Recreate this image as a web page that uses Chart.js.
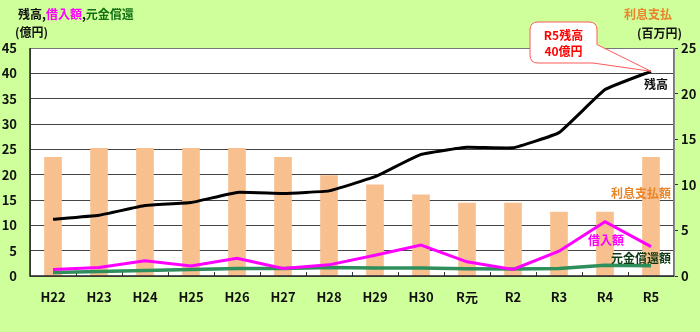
<!DOCTYPE html>
<html lang="ja">
<head>
<meta charset="UTF-8">
<title>残高・借入額・元金償還・利息支払</title>
<script src="https://cdn.jsdelivr.net/npm/chart.js"></script>
<style>
    html, body { margin: 0; padding: 0; background: #ceff9b; }
    #wrap { width: 700px; height: 332px; position: relative; }
</style>
</head>
<body>
<div id="wrap"><canvas id="debtChart" width="700" height="332"></canvas></div>
<script>
    // 年度
    const years = ['H22', 'H23', 'H24', 'H25', 'H26', 'H27', 'H28', 'H29', 'H30', 'R元', 'R2', 'R3', 'R4', 'R5'];
    // 残高 (億円)
    const balance = [11.2, 12.0, 13.9, 14.5, 16.5, 16.3, 16.8, 19.6, 24.0, 25.4, 25.3, 28.3, 36.8, 40.4];
    // 借入額 (億円)
    const borrowing = [1.3, 1.7, 3.0, 2.0, 3.5, 1.5, 2.2, 4.1, 6.1, 2.8, 1.3, 4.9, 10.7, 5.8];
    // 元金償還額 (億円)
    const repayment = [0.7, 0.9, 1.1, 1.3, 1.5, 1.5, 1.7, 1.6, 1.6, 1.45, 1.4, 1.5, 2.1, 2.0];
    // 利息支払額 (百万円)
    const interest = [13, 14, 14, 14, 14, 13, 11, 10, 8.9, 8, 8, 7, 7, 13];

    const leftTicks = [0, 5, 10, 15, 20, 25, 30, 35, 40, 45];
    const rightTicks = [0, 5, 10, 15, 20, 25];

    const jp = '"Noto Sans CJK JP", "Noto Sans", sans-serif';

    // 凡例・単位・吹き出しなどの文字
    const overlay = {
        id: 'overlay',
        beforeDatasetsDraw(chart) {
            const { ctx, chartArea: a } = chart;
            // x軸の目盛り (区切り位置、内向き)
            const x = chart.scales.x;
            ctx.save();
            ctx.strokeStyle = '#333';
            ctx.lineWidth = 1;
            for (let i = 1; i < years.length; i++) {
                const px = Math.round((x.getPixelForValue(i - 1) + x.getPixelForValue(i)) / 2) + 0.5;
                ctx.beginPath();
                ctx.moveTo(px, a.bottom);
                ctx.lineTo(px, a.bottom - 4);
                ctx.stroke();
            }
            ctx.restore();
        },
        afterDraw(chart) {
            const { ctx, chartArea: a } = chart;
            ctx.save();
            // 枠
            ctx.strokeStyle = '#777';
            ctx.lineWidth = 1;
            ctx.strokeRect(a.left + 0.5, a.top + 0.5, a.right - a.left - 1, a.bottom - a.top);
            ctx.strokeStyle = '#222';
            ctx.lineWidth = 1.5;
            ctx.beginPath();
            ctx.moveTo(a.left, a.top);
            ctx.lineTo(a.left, a.bottom);
            ctx.lineTo(a.right, a.bottom);
            ctx.stroke();

            ctx.textBaseline = 'middle';
            ctx.font = 'bold 12px ' + jp;

            // 左上タイトル
            let tx = 18;
            const parts = [['残高', '#111'], [',', '#111'], ['借入額', '#ff00ff'], [',', '#111'], ['元金償還', '#127012']];
            parts.forEach(([t, c]) => {
                ctx.fillStyle = c;
                ctx.fillText(t, tx, 14);
                tx += ctx.measureText(t).width;
            });
            ctx.fillStyle = '#111';
            ctx.fillText('(億円)', 15, 32);

            // 右上タイトル
            ctx.textAlign = 'right';
            ctx.fillStyle = '#e8842a';
            ctx.fillText('利息支払', 672, 14);
            ctx.fillStyle = '#111';
            ctx.fillText('(百万円)', 682, 33);

            // 系列ラベル
            ctx.fillStyle = '#111';
            ctx.fillText('残高', 668, 84);
            ctx.fillStyle = '#e8842a';
            ctx.fillText('利息支払額', 671, 193);
            ctx.fillStyle = '#ff00ff';
            ctx.fillText('借入額', 624, 240);
            ctx.fillStyle = '#0d3a14';
            ctx.fillText('元金償還額', 671, 258);

            // 吹き出し (R5残高)
            const last = chart.getDatasetMeta(1).data[years.length - 1];
            const bx = 530, by = 22, bw = 67, bh = 41, r = 8;
            ctx.beginPath();
            ctx.moveTo(bx + r, by);
            ctx.lineTo(bx + bw - r, by);
            ctx.quadraticCurveTo(bx + bw, by, bx + bw, by + r);
            ctx.lineTo(bx + bw, by + bh * 0.55);
            ctx.lineTo(last.x, last.y);
            ctx.lineTo(bx + bw - 4, by + bh);
            ctx.lineTo(bx + r, by + bh);
            ctx.quadraticCurveTo(bx, by + bh, bx, by + bh - r);
            ctx.lineTo(bx, by + r);
            ctx.quadraticCurveTo(bx, by, bx + r, by);
            ctx.closePath();
            ctx.fillStyle = '#ffffff';
            ctx.fill();
            ctx.strokeStyle = '#ff5a5a';
            ctx.lineWidth = 1;
            ctx.stroke();
            ctx.textAlign = 'center';
            ctx.fillStyle = '#ff0000';
            ctx.fillText('R5残高', bx + bw / 2, by + 13);
            ctx.fillText('40億円', bx + bw / 2, by + 29);
            ctx.restore();
        }
    };

    const whiteArea = {
        id: 'whiteArea',
        beforeDraw(chart) {
            const { ctx, chartArea: a } = chart;
            ctx.save();
            ctx.fillStyle = '#ceff9b';
            ctx.fillRect(0, 0, chart.width, chart.height);
            ctx.fillStyle = '#ffffff';
            ctx.fillRect(a.left, a.top, a.right - a.left, a.bottom - a.top);
            ctx.restore();
        }
    };

    const tickFont = { family: jp, size: 13, weight: 'bold' };

    new Chart(document.getElementById('debtChart'), {
        data: {
            labels: years,
            datasets: [
                {
                    type: 'bar',
                    label: '利息支払額',
                    data: interest,
                    yAxisID: 'y1',
                    backgroundColor: '#f9c08f',
                    barThickness: 17,
                    order: 4
                },
                {
                    type: 'line',
                    label: '残高',
                    data: balance,
                    yAxisID: 'y',
                    borderColor: '#000000',
                    borderWidth: 3,
                    pointRadius: 0,
                    tension: 0.1,
                    order: 1
                },
                {
                    type: 'line',
                    label: '借入額',
                    data: borrowing,
                    yAxisID: 'y',
                    borderColor: '#ff00ff',
                    borderWidth: 3,
                    pointRadius: 0,
                    tension: 0,
                    order: 2
                },
                {
                    type: 'line',
                    label: '元金償還額',
                    data: repayment,
                    yAxisID: 'y',
                    borderColor: '#2f8f5c',
                    borderWidth: 3.5,
                    pointRadius: 0,
                    tension: 0,
                    order: 3
                }
            ]
        },
        options: {
            responsive: false,
            animation: false,
            layout: { padding: { top: 48, left: 0, right: 0, bottom: 0 } },
            plugins: {
                legend: { display: false },
                tooltip: { enabled: false }
            },
            scales: {
                x: {
                    offset: true,
                    grid: { display: false },
                    border: { display: false },
                    ticks: { color: '#111', font: tickFont, padding: 5, maxRotation: 0 },
                    afterFit(s) { s.height = 56; }
                },
                y: {
                    position: 'left',
                    min: 0,
                    max: 45,
                    afterBuildTicks(s) { s.ticks = leftTicks.map(v => ({ value: v })); },
                    grid: { color: '#444', lineWidth: 1, drawTicks: false },
                    border: { display: false },
                    ticks: { color: '#111', font: tickFont, padding: 13 },
                    afterFit(s) { s.width = 30; }
                },
                y1: {
                    position: 'right',
                    min: 0,
                    max: 25,
                    afterBuildTicks(s) { s.ticks = rightTicks.map(v => ({ value: v })); },
                    grid: { drawOnChartArea: false, color: '#333', tickLength: 4 },
                    border: { color: '#888' },
                    ticks: { color: '#111', font: tickFont, padding: 3 },
                    afterFit(s) { s.width = 26; }
                }
            }
        },
        plugins: [whiteArea, overlay]
    });
</script>
</body>
</html>
